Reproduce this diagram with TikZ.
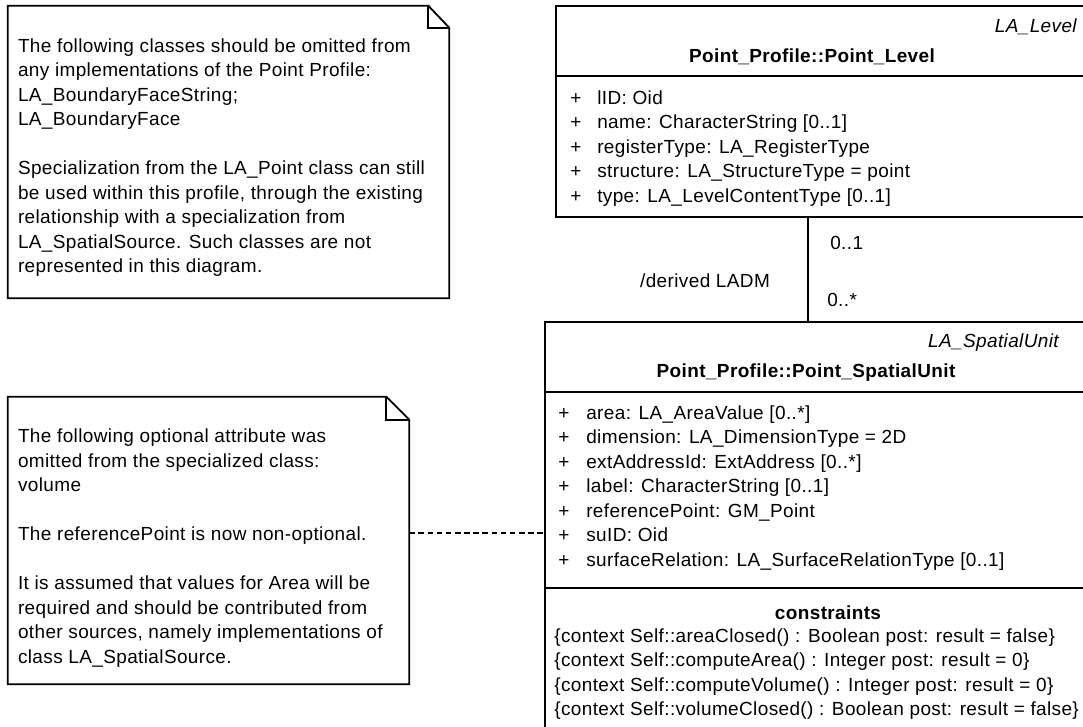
\documentclass[tikz,border=0pt]{standalone}
\usepackage{fontspec}
\setmainfont{Liberation Sans}[LetterSpace=2.0]
\usetikzlibrary{calc,fit}

\begin{document}
\begin{tikzpicture}[x=0.025cm, y=-0.025cm,
   txt/.style={inner sep=0, font=\fontsize{13.5}{17.4}\selectfont},
   ln/.style={line width=1.3pt, black},
   frame/.style={inner sep=0}]
  \path[use as bounding box, clip] (0,0) rectangle (1083,726);
  % notes
  \node[frame, fit={(8,6) (449,298)}] (note1) {};
  \draw[ln] (note1.south west) -- (note1.north west) -- ($(note1.north east)+(-21,0)$)
     -- ($(note1.north east)+(0,22)$) -- (note1.south east) -- cycle;
  \draw[ln] ($(note1.north east)+(-21,0)$) |- ($(note1.north east)+(0,22)$);
  \node[txt, anchor=north west] (note1txt) at ($(note1.north west)+(10,29.3)$) {\begin{tabular}{@{}l@{}}
     The following classes should be omitted from\\
     any implementations of the Point Profile:\\
     LA\_BoundaryFaceString;\\
     LA\_BoundaryFace\\
     \\
     Specialization from the LA\_Point class can still\\
     be used within this profile, through the existing\\
     relationship with a specialization from\\
     LA\_SpatialSource. Such classes are not\\
     represented in this diagram.\end{tabular}};
  \node[frame, fit={(8,397) (409,684)}] (note2) {};
  \draw[ln] (note2.south west) -- (note2.north west) -- ($(note2.north east)+(-23,0)$)
     -- ($(note2.north east)+(0,23)$) -- (note2.south east) -- cycle;
  \draw[ln] ($(note2.north east)+(-23,0)$) |- ($(note2.north east)+(0,23)$);
  \node[txt, anchor=north west] (note2txt) at ($(note2.north west)+(10,28.8)$) {\begin{tabular}{@{}l@{}}
     The following optional attribute was\\
     omitted from the specialized class:\\
     volume\\
     \\
     The referencePoint is now non-optional.\\
     \\
     It is assumed that values for Area will be\\
     required and should be contributed from\\
     other sources, namely implementations of\\
     class LA\_SpatialSource.\end{tabular}};
  % Point_Level
  \node[frame, draw, ln, fit={(556,6) (1095,217)}] (lvl) {};
  \draw[ln] (lvl.west |- 0,76) -- (lvl.east |- 0,76);
  \node[txt, anchor=base east] (lvlst) at (1077,32) {\itshape LA\_Level};
  \node[txt, anchor=base] (lvlname) at (812,62) {\bfseries Point\_Profile::Point\_Level};
  \node[txt, anchor=north west] (lvlattr) at (570,87) {\begin{tabular}{@{}p{0.675cm}@{}l@{}}
     + & lID: Oid\\
     + & name: CharacterString [0..1]\\
     + & registerType: LA\_RegisterType\\
     + & structure: LA\_StructureType = point\\
     + & type: LA\_LevelContentType [0..1]\end{tabular}};
  % Point_SpatialUnit
  \node[frame, draw, ln, fit={(545,322) (1095,745)}] (su) {};
  \draw[ln] (su.west |- 0,392) -- (su.east |- 0,392);
  \draw[ln] (su.west |- 0,588) -- (su.east |- 0,588);
  \node[txt, anchor=base east] (sust) at (1059,347) {\itshape LA\_SpatialUnit};
  \node[txt, anchor=base] (suname) at (806,377) {\bfseries Point\_Profile::Point\_SpatialUnit};
  \node[txt, anchor=north west] (suattr) at (558,402) {\begin{tabular}{@{}p{0.7cm}@{}l@{}}
     + & area: LA\_AreaValue [0..*]\\
     + & dimension: LA\_DimensionType = 2D\\
     + & extAddressId: ExtAddress [0..*]\\
     + & label: CharacterString [0..1]\\
     + & referencePoint: GM\_Point\\
     + & suID: Oid\\
     + & surfaceRelation: LA\_SurfaceRelationType [0..1]\end{tabular}};
  \node[txt, anchor=base] (sucon) at (828,619) {\bfseries constraints};
  \node[txt, anchor=north west] (suconlist) at (554,625) {\begin{tabular}{@{}l@{}}
     \{context Self::areaClosed() : Boolean post: result = false\}\\
     \{context Self::computeArea() : Integer post: result = 0\}\\
     \{context Self::computeVolume() : Integer post: result = 0\}\\
     \{context Self::volumeClosed() : Boolean post: result = false\}\end{tabular}};
  % association and note link
  \coordinate (assoc) at (808,0);
  \draw[ln] (assoc |- lvl.south) -- (assoc |- su.north);
  \node[txt, anchor=base west] (m1) at (830,249) {0..1};
  \node[txt, anchor=base west] (m2) at (827,306) {0..*};
  \node[txt, anchor=base] (der) at (705,287) {/derived LADM};
  \draw[ln, line width=1pt, dash pattern=on 4pt off 2.5pt] (note2.east |- 0,533) -- (su.west |- 0,533);
\end{tikzpicture}
\end{document}
